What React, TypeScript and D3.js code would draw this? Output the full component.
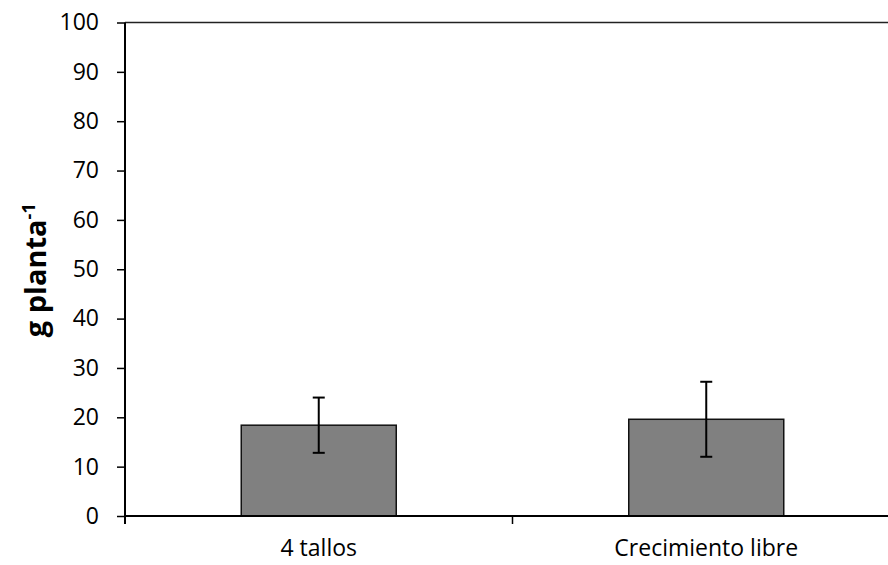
import { useEffect, useRef } from "react";
import * as d3 from "d3";

const categories = ["4 tallos", "Crecimiento libre"];
const means = [18.4, 19.6];
const errors = [5.6, 7.6];
const yTicks = [0, 10, 20, 30, 40, 50, 60, 70, 80, 90, 100];

export default function App() {
  const svgRef = useRef<SVGSVGElement>(null);

  useEffect(() => {
    const width = 888;
    const height = 565;
    const margin = { top: 22.5, right: -12, bottom: 49, left: 125 };
    const innerW = width - margin.left - margin.right;
    const innerH = height - margin.top - margin.bottom;

    d3.select(svgRef.current).selectAll("*").remove();

    const svg = d3
      .select(svgRef.current)
      .attr("width", width)
      .attr("height", height)
      .append("g")
      .attr("transform", `translate(${margin.left},${margin.top})`);

    const x = d3.scaleBand<string>().domain(categories).range([0, innerW]);
    const y = d3.scaleLinear().domain([0, 100]).range([innerH, 0]);
    const font = "'Open Sans', sans-serif";

    // top border of plot area
    svg
      .append("line")
      .attr("x1", 0)
      .attr("x2", innerW)
      .attr("y1", 0)
      .attr("y2", 0)
      .attr("stroke", "#222")
      .attr("stroke-width", 1.5);

    // bars
    const barW = x.bandwidth() * 0.4;
    svg
      .selectAll("rect.bar")
      .data(categories)
      .enter()
      .append("rect")
      .attr("class", "bar")
      .attr("x", (d) => x(d)! + (x.bandwidth() - barW) / 2)
      .attr("y", (d, i) => y(means[i]))
      .attr("width", barW)
      .attr("height", (d, i) => innerH - y(means[i]))
      .attr("fill", "#808080")
      .attr("stroke", "#111")
      .attr("stroke-width", 1.5);

    // error bars
    const err = svg
      .selectAll("g.err")
      .data(categories)
      .enter()
      .append("g")
      .attr("class", "err")
      .attr("stroke", "#000")
      .attr("stroke-width", 2);
    err
      .append("line")
      .attr("x1", (d) => x(d)! + x.bandwidth() / 2)
      .attr("x2", (d) => x(d)! + x.bandwidth() / 2)
      .attr("y1", (d, i) => y(means[i] + errors[i]))
      .attr("y2", (d, i) => y(means[i] - errors[i]));
    [1, -1].forEach((s) => {
      err
        .append("line")
        .attr("x1", (d) => x(d)! + x.bandwidth() / 2 - 6)
        .attr("x2", (d) => x(d)! + x.bandwidth() / 2 + 6)
        .attr("y1", (d, i) => y(means[i] + s * errors[i]))
        .attr("y2", (d, i) => y(means[i] + s * errors[i]));
    });

    // y axis
    const yAxis = svg
      .append("g")
      .call(d3.axisLeft(y).tickValues(yTicks).tickSize(8).tickPadding(18));
    yAxis.select(".domain").attr("stroke", "#000").attr("stroke-width", 2).attr("d", `M0,${innerH + 8}V0`);
    yAxis.selectAll(".tick line").attr("stroke", "#000").attr("stroke-width", 1.5);
    yAxis
      .selectAll(".tick text")
      .attr("font-family", font)
      .attr("font-size", 23)
      .attr("fill", "#000");

    // x axis
    const xAxis = svg.append("g").attr("transform", `translate(0,${innerH})`);
    xAxis
      .append("line")
      .attr("x1", 0)
      .attr("x2", innerW)
      .attr("stroke", "#000")
      .attr("stroke-width", 2);
    xAxis
      .selectAll("line.tk")
      .data(categories.slice(1))
      .enter()
      .append("line")
      .attr("class", "tk")
      .attr("x1", (d) => x(d)!)
      .attr("x2", (d) => x(d)!)
      .attr("y1", 0)
      .attr("y2", 8)
      .attr("stroke", "#000")
      .attr("stroke-width", 1.5);
    xAxis
      .selectAll("text")
      .data(categories)
      .enter()
      .append("text")
      .attr("x", (d) => x(d)! + x.bandwidth() / 2)
      .attr("y", 40)
      .attr("text-anchor", "middle")
      .attr("font-family", font)
      .attr("font-size", 23)
      .attr("fill", "#000")
      .text((d) => d);

    // y title
    const title = svg
      .append("text")
      .attr("transform", `translate(${-79},${innerH / 2 + 1}) rotate(-90)`)
      .attr("text-anchor", "middle")
      .attr("font-family", font)
      .attr("font-weight", "bold")
      .attr("font-size", 29)
      .attr("fill", "#000");
    title.append("tspan").text("g planta");
    title.append("tspan").attr("font-size", 18).attr("dy", -11).text("-1");
  }, []);

  return (
    <svg
      ref={svgRef}
      style={{ position: "absolute", left: 0, top: 0, background: "#fff" }}
    ></svg>
  );
}
